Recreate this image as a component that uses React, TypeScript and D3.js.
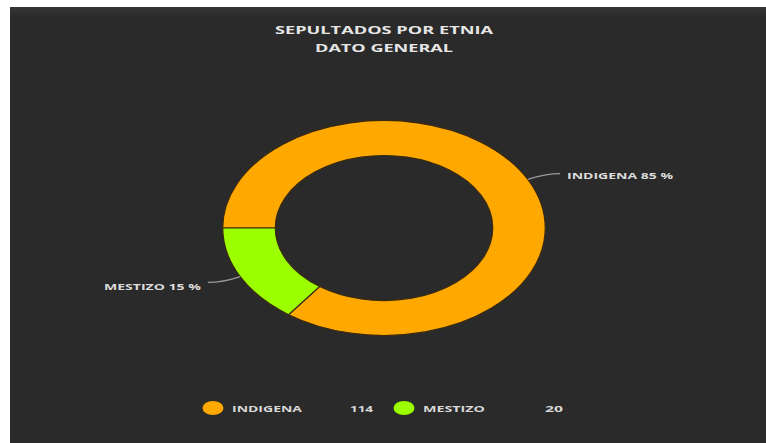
import React from "react";
import * as d3 from "d3";

const categories = ["INDIGENA", "MESTIZO"];
const values = [114, 20];
const percentLabels = ["85 %", "15 %"];
const colors = ["#FFA800", "#9CFF00"];
const titleLines = ["SEPULTADOS POR ETNIA", "DATO GENERAL"];

const W = 766;
const H = 443;
const cx = 384;
const cy = 228;
const outerR = 107.5;
const innerR = 72.5;
const sx = 1.5; // horizontal stretch of the reference picture

export default function App() {
  const pie = d3
    .pie<number>()
    .sort(null)
    .startAngle(-Math.PI / 2)
    .endAngle((3 * Math.PI) / 2);
  const arcs = pie(values);
  const arcGen = d3.arc<d3.PieArcDatum<number>>().innerRadius(innerR).outerRadius(outerR);

  const pt = (a: number, r: number) => [cx + sx * r * Math.sin(a), cy - r * Math.cos(a)];

  const legendX = d3.scalePoint<string>().domain(categories).range([213, 404]);
  const legendValueX = [373, 563];

  return (
    <svg
      width={W}
      height={H}
      style={{ position: "absolute", left: 0, top: 0, display: "block" }}
      fontFamily="'Open Sans', 'DejaVu Sans', sans-serif"
    >
      <defs>
        <linearGradient id="topband" x1="0" y1="0" x2="0" y2="1">
          <stop offset="0" stopColor="#363636" />
          <stop offset="1" stopColor="#2a2a2a" />
        </linearGradient>
      </defs>
      <rect x={0} y={0} width={W} height={H} fill="#ffffff" />
      <rect x={10} y={7} width={W - 10} height={H - 7} fill="#2a2a2a" />
      <rect x={10} y={7} width={W - 10} height={10} fill="url(#topband)" />

      {titleLines.map((t, i) => (
        <text
          key={t}
          x={cx}
          y={30 + i * 18}
          textAnchor="middle"
          dominantBaseline="central"
          fill="#e6e6e6"
          fontWeight="bold"
          fontSize={10}
          textLength={i === 0 ? 218 : 138}
          lengthAdjust="spacingAndGlyphs"
        >
          {t}
        </text>
      ))}

      <g transform={`translate(${cx},${cy}) scale(${sx},1)`}>
        {arcs.map((a, i) => (
          <path
            key={categories[i]}
            d={arcGen(a) || ""}
            fill={colors[i]}
            stroke="#3a2a12"
            strokeWidth={1.2}
            vectorEffect="non-scaling-stroke"
          />
        ))}
      </g>

      {arcs.map((a, i) => {
        const mid = (a.startAngle + a.endAngle) / 2;
        const [x0, y0] = pt(mid, outerR);
        const [x1, y1] = pt(mid, outerR * 1.12);
        const right = Math.sin(mid) > 0;
        const x2 = x1 + (right ? 15 : -15);
        const label = `${categories[i]} ${percentLabels[i]}`;
        return (
          <g key={"lbl" + i}>
            <path
              d={`M${x0},${y0} Q${x1},${y1} ${x2},${y1}`}
              fill="none"
              stroke="#9a9a9a"
              strokeWidth={1.2}
            />
            <text
              x={right ? x2 + 7 : x2 - 7}
              y={y1 + (right ? 2 : 4)}
              textAnchor={right ? "start" : "end"}
              dominantBaseline="central"
              fill="#dcdcdc"
              fontWeight="bold"
              fontSize={9.5}
              textLength={right ? 106 : 97}
              lengthAdjust="spacingAndGlyphs"
            >
              {label}
            </text>
          </g>
        );
      })}

      {categories.map((c, i) => {
        const lx = legendX(c) as number;
        return (
          <g key={"leg" + c}>
            <ellipse cx={lx} cy={408} rx={10.5} ry={7} fill={colors[i]} />
            <text
              x={lx + 19}
              y={408}
              dominantBaseline="central"
              fill="#d8d8d8"
              fontWeight="bold"
              fontSize={9.5}
              textLength={i === 0 ? 70 : 62}
              lengthAdjust="spacingAndGlyphs"
            >
              {c}
            </text>
            <text
              x={legendValueX[i]}
              y={408}
              textAnchor="end"
              dominantBaseline="central"
              fill="#d8d8d8"
              fontWeight="bold"
              fontSize={9.5}
              textLength={i === 0 ? 23 : 18}
              lengthAdjust="spacingAndGlyphs"
            >
              {values[i]}
            </text>
          </g>
        );
      })}
    </svg>
  );
}
